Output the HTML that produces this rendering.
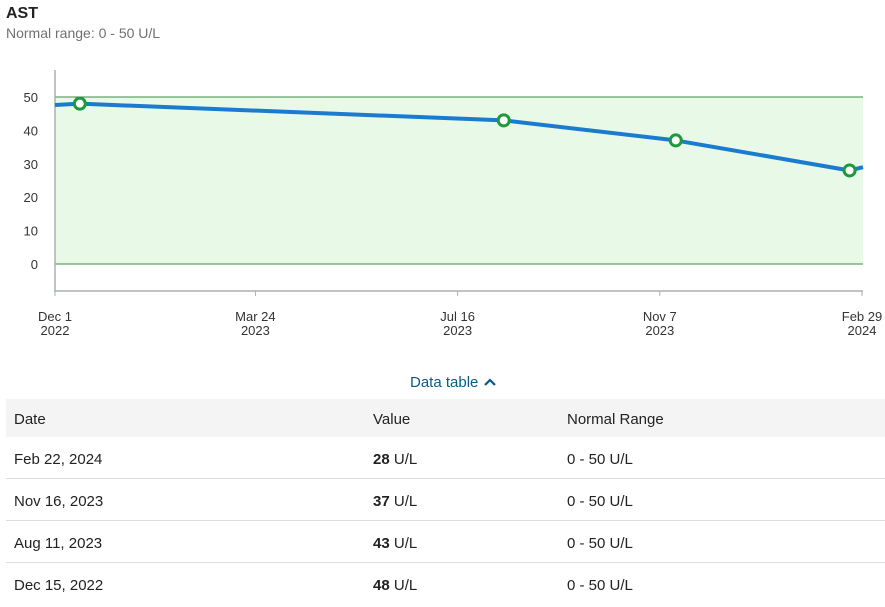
<!DOCTYPE html>
<html><head><meta charset="utf-8"><style>
body{margin:0;width:885px;height:607px;background:#fff;font-family:"Liberation Sans",sans-serif;position:relative;overflow:hidden;color:#222}
.t{position:absolute;left:6px;top:5px;font-weight:bold;font-size:16px}
.s{position:absolute;left:6px;top:25px;font-size:14px;color:#707070}
.dt{position:absolute;left:410px;top:374px;font-size:15px;color:#0a5a86}
table{position:absolute;left:6px;top:399px;width:879px;border-collapse:collapse;font-size:15px}
td,th{text-align:left;font-weight:normal;padding:3px 0 0 8px;height:38px;border-bottom:1px solid #ddd}
th{background:#f4f4f4;height:35px;border:none}
</style></head><body>
<div class="t">AST</div>
<div class="s">Normal range: 0 - 50 U/L</div>
<svg id="c" width="885" height="360" style="position:absolute;left:0;top:0"></svg>
<div class="dt">Data table <svg width="14" height="10" viewBox="0 0 14 10"><path d="M2 8 L7 3 L12 8" stroke="#0a5a86" stroke-width="2.2" fill="none"/></svg></div>
<table>
<tr><th style="width:351px">Date</th><th style="width:186px">Value</th><th>Normal Range</th></tr>
<tr><td>Feb 22, 2024</td><td><b>28</b> U/L</td><td>0 - 50 U/L</td></tr>
<tr><td>Nov 16, 2023</td><td><b>37</b> U/L</td><td>0 - 50 U/L</td></tr>
<tr><td>Aug 11, 2023</td><td><b>43</b> U/L</td><td>0 - 50 U/L</td></tr>
<tr><td style="border:none">Dec 15, 2022</td><td style="border:none"><b>48</b> U/L</td><td style="border:none">0 - 50 U/L</td></tr>
</table>
<script>
const dates=["2022-12-15","2023-08-11","2023-11-16","2024-02-22"];
const values=[48,43,37,28];
const edgeValues=[47.6,29];
const yTicks=[0,10,20,30,40,50];
const xTickDates=["2022-12-01","2023-03-24","2023-07-16","2023-11-07","2024-02-29"];
const xTickLabels=[["Dec 1","2022"],["Mar 24","2023"],["Jul 16","2023"],["Nov 7","2023"],["Feb 29","2024"]];
const range=[0,50];
const NS="http://www.w3.org/2000/svg",svg=document.getElementById('c');
const t0=Date.parse("2022-12-01"),t1=Date.parse("2024-02-29");
const X0=55,X1=862;
const x=d=>X0+(Date.parse(d)-t0)/(t1-t0)*(X1-X0);
const y=v=>264-v*3.34;
function mk(tag,a){const e=document.createElementNS(NS,tag);for(const k in a)e.setAttribute(k,a[k]);svg.appendChild(e);return e;}
let e=mk('rect',{x:X0,y:y(range[1]),width:863-X0,height:y(range[0])-y(range[1]),fill:'#e8f9e8'});

[range[0],range[1]].forEach(v=>{e=mk('line',{x1:X0,x2:863,y1:y(v),y2:y(v),stroke:'#3d8a46','stroke-width':1});
});
e=mk('line',{x1:X0,x2:X0,y1:70,y2:292,stroke:'#aab0b5','stroke-width':1.5});

e=mk('line',{x1:X0,x2:X1+1,y1:291,y2:291,stroke:'#aab0b5','stroke-width':1.5});

yTicks.forEach(v=>{e=mk('text',{x:38,y:y(v)+5,'text-anchor':'end','font-size':13,fill:'#333'});e.textContent=v;
});
xTickDates.forEach((d,i)=>{const xx=x(d);mk('line',{x1:xx,x2:xx,y1:291,y2:296,stroke:'#aab0b5'});
xTickLabels[i].forEach((s,j)=>{e=mk('text',{x:xx,y:321+j*14,'text-anchor':'middle','font-size':13,fill:'#333'});e.textContent=s;
});});
let pts=[[X0,y(edgeValues[0])]].concat(dates.map((d,i)=>[x(d),y(values[i])])).concat([[863,y(edgeValues[1])]]);
e=mk('polyline',{points:pts.map(p=>p.join(',')).join(' '),fill:'none',stroke:'#1a7bd0','stroke-width':4,'stroke-linejoin':'round'});

dates.forEach((d,i)=>{e=mk('circle',{cx:x(d),cy:y(values[i]),r:5.5,fill:'#fff',stroke:'#1e9a3a','stroke-width':3});
});
</script>
</body></html>
